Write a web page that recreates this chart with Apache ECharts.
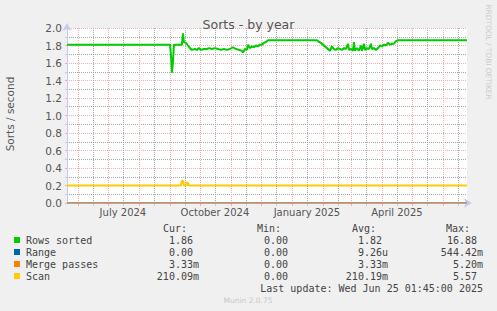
<!DOCTYPE html>
<html>
<head>
<meta charset="utf-8">
<script src="https://cdn.jsdelivr.net/npm/echarts@6/dist/echarts.min.js"></script>
<style>
html,body{margin:0;padding:0;background:#f0f0f0;}
#chart{width:497px;height:311px;}
</style>
</head>
<body>
<div id="chart"></div>
<script>
// ---- data ----
const timeMin = '2024-05-21T01:45:00';
const timeMax = '2025-06-25T01:45:00';

const rowsSorted = [
  ['2024-05-21T01:45:00',1.81],['2024-09-01',1.81],['2024-09-02',1.70],['2024-09-03',1.49],
  ['2024-09-04',1.60],['2024-09-05',1.81],['2024-09-13',1.81],['2024-09-14',1.94],
  ['2024-09-15',1.84],['2024-09-17',1.83],['2024-09-19',1.80],['2024-09-21',1.77],
  ['2024-09-23',1.75],['2024-09-26',1.76],['2024-09-28',1.75],['2024-09-30',1.77],
  ['2024-10-02',1.75],['2024-10-05',1.76],['2024-10-08',1.76],['2024-10-10',1.77],
  ['2024-10-13',1.76],['2024-10-16',1.77],['2024-10-19',1.76],['2024-10-22',1.75],
  ['2024-10-25',1.76],['2024-10-28',1.75],['2024-10-31',1.76],['2024-11-03',1.78],
  ['2024-11-06',1.76],['2024-11-09',1.75],['2024-11-12',1.74],['2024-11-13',1.72],
  ['2024-11-15',1.76],['2024-11-17',1.75],['2024-11-18',1.81],['2024-11-20',1.77],
  ['2024-11-22',1.79],['2024-11-24',1.78],['2024-11-26',1.80],['2024-11-28',1.79],
  ['2024-11-30',1.81],['2024-12-02',1.81],['2024-12-04',1.83],['2024-12-06',1.84],
  ['2024-12-08',1.86],['2025-01-26',1.86],['2025-01-28',1.84],['2025-01-30',1.83],
  ['2025-02-01',1.81],['2025-02-03',1.79],['2025-02-05',1.77],['2025-02-07',1.75],
  ['2025-02-08',1.74],['2025-02-10',1.79],['2025-02-12',1.76],['2025-02-14',1.75],
  ['2025-02-16',1.77],['2025-02-18',1.76],['2025-02-20',1.75],['2025-02-22',1.77],
  ['2025-02-24',1.76],['2025-02-26',1.82],['2025-02-27',1.75],['2025-03-01',1.76],
  ['2025-03-03',1.74],['2025-03-04',1.84],['2025-03-05',1.74],['2025-03-07',1.77],
  ['2025-03-09',1.74],['2025-03-11',1.80],['2025-03-12',1.74],['2025-03-14',1.82],
  ['2025-03-15',1.75],['2025-03-17',1.77],['2025-03-19',1.76],['2025-03-21',1.82],
  ['2025-03-22',1.76],['2025-03-24',1.77],['2025-03-26',1.75],['2025-03-28',1.77],
  ['2025-03-30',1.80],['2025-04-01',1.79],['2025-04-03',1.81],['2025-04-05',1.80],
  ['2025-04-07',1.83],['2025-04-09',1.81],['2025-04-11',1.82],['2025-04-13',1.82],
  ['2025-04-15',1.85],['2025-04-17',1.86],['2025-06-25T01:45:00',1.86]
];
const range = [['2024-05-21T01:45:00',0],['2025-06-25T01:45:00',0]];
const mergePasses = [['2024-05-21T01:45:00',0.0033],['2025-06-25T01:45:00',0.0033]];
const scan = [
  ['2024-05-21T01:45:00',0.20],['2024-09-12',0.20],['2024-09-13',0.255],['2024-09-14',0.255],
  ['2024-09-15',0.20],['2024-09-17',0.20],['2024-09-18',0.232],['2024-09-19',0.232],
  ['2024-09-20',0.20],['2025-06-25T01:45:00',0.20]
];

const monthLabels = ['July 2024','October 2024','January 2025','April 2025'];
const monthLabelDates = ['2024-07-16','2024-10-16','2025-01-16','2025-04-16'];
const majorGridDates = ['2024-06-01','2024-07-01','2024-08-01','2024-09-01','2024-10-01','2024-11-01',
  '2024-12-01','2025-01-01','2025-02-01','2025-03-01','2025-04-01','2025-05-01','2025-06-01'];
const minorGridDates = ['2024-06-16','2024-07-16','2024-08-16','2024-09-16','2024-10-16','2024-11-16',
  '2024-12-16','2025-01-16','2025-02-16','2025-03-16','2025-04-16','2025-05-16','2025-06-16'];

const legendNames = ['Rows sorted','Range','Merge passes','Scan'];
const legendColors = ['#00cc00','#0066b3','#ff8000','#ffcc00'];
const curVals = ['1.86','0.00','3.33m','210.09m'];
const minVals = ['0.00','0.00','0.00','0.00'];
const avgVals = ['1.82','9.26u','3.33m','210.19m'];
const maxVals = ['16.88','544.42m','5.20m','5.57'];
const lastUpdate = 'Last update: Wed Jun 25 01:45:00 2025';

// ---- chart ----
const ts = s => new Date(s.length === 10 ? s + 'T00:00:00' : s).getTime();
const chart = echarts.init(document.getElementById('chart'), null, {renderer:'svg'});

const MONO = "'DejaVu Sans Mono', monospace";
const SANS = "'DejaVu Sans', sans-serif";
const majorColor = '#eeb0b0';
const minorColor = '#a8a8a8';
const axisColor = '#c8c8f2';

const graphics = [];
graphics.push({type:'text', x:10, y:114, rotation:Math.PI/2,
  style:{text:'Sorts / second', font:'10.5px '+SANS, fill:'#555', align:'center', verticalAlign:'middle'}});
graphics.push({type:'text', x:488, y:52, rotation:-Math.PI/2,
  style:{text:'RRDTOOL / TOBI OETIKER', font:'7.4px '+SANS, fill:'#cccccc', align:'center', verticalAlign:'middle'}});
const headerRight = [187, 281, 376, 470];
const colRight = [199, 294, 388, 483];
['Cur:','Min:','Avg:','Max:'].forEach((h,i)=>{
  graphics.push({type:'text', x:headerRight[i], y:228, style:{text:h, font:'10px '+MONO, fill:'#444', align:'right', verticalAlign:'middle'}});
});
const cols = [curVals, minVals, avgVals, maxVals];
legendNames.forEach((n,r)=>{
  const y = 240 + r*12;
  graphics.push({type:'rect', shape:{x:14, y:y-3, width:6, height:6}, style:{fill:legendColors[r]}});
  graphics.push({type:'text', x:26, y:y, style:{text:n, font:'10px '+MONO, fill:'#444', align:'left', verticalAlign:'middle'}});
  cols.forEach((c,ci)=>{
    const v = c[r];
    const hasUnit = /[a-zA-Z]$/.test(v);
    graphics.push({type:'text', x:colRight[ci] - (hasUnit?0:6), y:y,
      style:{text:v, font:'10px '+MONO, fill:'#444', align:'right', verticalAlign:'middle'}});
  });
});
graphics.push({type:'text', x:483, y:288, style:{text:lastUpdate, font:'10px '+MONO, fill:'#444', align:'right', verticalAlign:'middle'}});
graphics.push({type:'text', x:248, y:300, style:{text:'Munin 2.0.75', font:'7.5px '+SANS, fill:'#c8c8c8', align:'center', verticalAlign:'middle'}});

const labelTs = monthLabelDates.map(ts);
const option = {
  animation:false,
  backgroundColor:'#f0f0f0',
  title:{text:'Sorts - by year', left:'center', top:12,
    textStyle:{fontFamily:SANS, fontSize:12.5, fontWeight:'normal', color:'#555', lineHeight:14}},
  grid:{left:67, right:30, top:28, bottom:108, show:true, backgroundColor:'#fff', borderWidth:0, containLabel:false},
  xAxis:[{
    type:'value', min:ts(timeMin), max:ts(timeMax),
    axisLine:{show:true, lineStyle:{color:axisColor, width:1}, symbol:['none','arrow'], symbolSize:[7,8], symbolOffset:[0,5]},
    axisTick:{show:true, length:3, inside:false, lineStyle:{color:majorColor}, customValues:majorGridDates.map(ts)},
    axisLabel:{show:true, customValues:labelTs, fontFamily:SANS, fontSize:10, color:'#555', margin:4,
      formatter:(v)=>{const i = labelTs.indexOf(v); return i>=0?monthLabels[i]:'';}},
    splitLine:{show:true, lineStyle:{color:majorColor, type:[1,1], width:1}}
  },{
    type:'value', min:ts(timeMin), max:ts(timeMax), position:'bottom',
    axisLine:{show:false},
    axisTick:{show:true, length:3, inside:false, lineStyle:{color:'#cccccc'}, customValues:minorGridDates.map(ts)},
    axisLabel:{show:false},
    splitLine:{show:true, lineStyle:{color:minorColor, type:[1,1], width:1}}
  }],
  yAxis:{
    type:'value', min:0, max:2, interval:0.2,
    axisLine:{show:true, lineStyle:{color:axisColor, width:1}, symbol:['none','arrow'], symbolSize:[7,8], symbolOffset:[0,5]},
    axisTick:{show:true, length:2, lineStyle:{color:majorColor}},
    minorTick:{show:true, splitNumber:2, length:2, lineStyle:{color:'#cccccc'}},
    axisLabel:{fontFamily:SANS, fontSize:10.5, color:'#555', margin:5, formatter:(v)=>v.toFixed(1)},
    splitLine:{show:true, lineStyle:{color:majorColor, type:[1,1], width:1}},
    minorSplitLine:{show:true, lineStyle:{color:minorColor, type:[1,1], width:1}}
  },
  series:[
    {name:'Rows sorted', type:'line', xAxisIndex:0, data:rowsSorted.map(p=>[ts(p[0]),p[1]]), showSymbol:false, lineStyle:{color:'#00cc00', width:2}, itemStyle:{color:'#00cc00'}},
    {name:'Range', type:'line', xAxisIndex:0, data:range.map(p=>[ts(p[0]),p[1]]), showSymbol:false, lineStyle:{color:'#0066b3', width:1}, itemStyle:{color:'#0066b3'}},
    {name:'Merge passes', type:'line', xAxisIndex:0, data:mergePasses.map(p=>[ts(p[0]),p[1]]), showSymbol:false, lineStyle:{color:'#ff8000', width:1}, itemStyle:{color:'#ff8000'}},
    {name:'Scan', type:'line', xAxisIndex:0, data:scan.map(p=>[ts(p[0]),p[1]]), showSymbol:false, lineStyle:{color:'#ffcc00', width:2}, itemStyle:{color:'#ffcc00'}}
  ],
  graphic:graphics
};
chart.setOption(option);
</script>
</body>
</html>
